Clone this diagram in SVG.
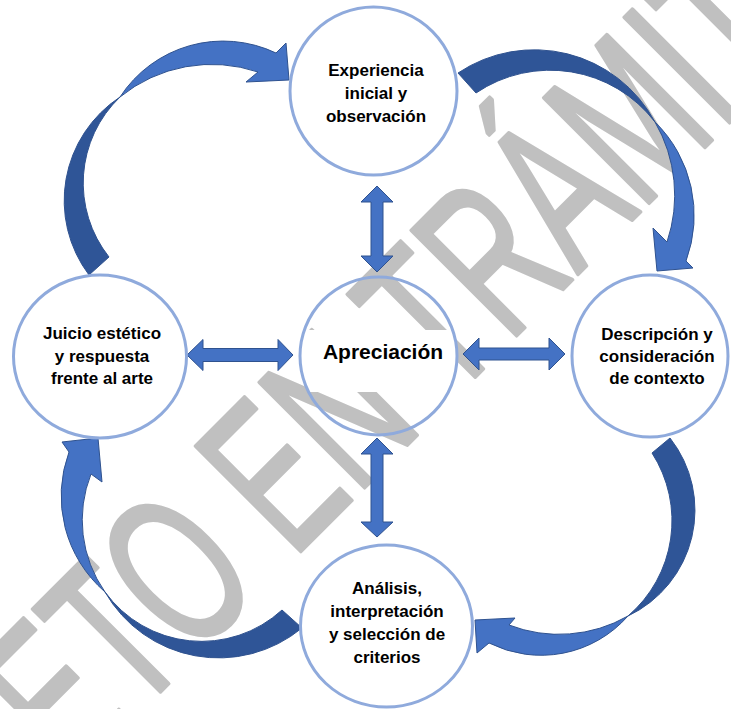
<svg xmlns="http://www.w3.org/2000/svg" width="731" height="709" viewBox="0 0 731 709">
<defs>
<style>
.ring {fill:none; stroke:#8FAADC; stroke-width:3;}
.lbl {font-family:"Liberation Sans", Arial, sans-serif; font-weight:bold; font-size:17px; fill:#000; text-anchor:middle;}
.big {font-size:21px;}
.dbl {fill:#4472C4; stroke:#2F528F; stroke-width:1;}
.dark {fill:#2F5597; stroke:#2F528F; stroke-width:1;}
.light {fill:#4472C4; stroke:#2F528F; stroke-width:1;}
.wm {font-family:"Liberation Sans", Arial, sans-serif; font-size:135px; fill:#C0C0C0; stroke:#C0C0C0; stroke-width:2.5; stroke-linejoin:round;}
</style>
<clipPath id="cApp"><ellipse cx="378.5" cy="356" rx="78.5" ry="79"/></clipPath>
</defs>
<rect width="731" height="709" fill="#fff"/>
<g id="watermark"><text class="wm" transform="translate(-199,1051) rotate(-45) scale(1,1.6)">DECRETO EN TRÁMITE</text></g>
<g id="connectors">
<path class="dark" d="M89,275 A124,124 0 0 1 120,97 A119,119 0 0 0 109,257 Z"/>
<path class="light" d="M120,97 A123,123 0 0 1 276,53 L286,43 L289,80 L246,82 L258,72 A145,145 0 0 0 120,97 Z"/>
<path class="dark" d="M458,73 A137,137 0 0 1 655,122 A132,132 0 0 0 476,93 Z"/>
<path class="light" d="M655,122 A131,131 0 0 1 686,261 L693,268 L657,271 L653,228 L667,242 A146,146 0 0 0 655,122 Z"/>
<path class="dark" d="M670,438 A117,117 0 0 1 628,616 A125,125 0 0 0 652,453 Z"/>
<path class="light" d="M628,616 A116,116 0 0 1 489,643 L477,653 L475,620 L515,618 L509,625 A139,139 0 0 0 628,616 Z"/>
<path class="dark" d="M282,610 A119,119 0 0 1 105,592 A131,131 0 0 0 302,628 Z"/>
<path class="light" d="M105,592 A127,127 0 0 1 69,452 L62,442 L98,438 L102,482 L91,474 A125,125 0 0 0 105,592 Z"/>
<path class="dbl" d="M187,355 L203,339.5 L203,348.5 L278,348.5 L278,339.5 L293,355 L278,370.5 L278,361.5 L203,361.5 L203,370.5 Z"/>
<path class="dbl" d="M463,354 L479,338 L479,348 L549,348 L549,338 L565,354 L549,370 L549,360 L479,360 L479,370 Z"/>
<path class="dbl" d="M377,186 L393,202 L383,202 L383,256 L393,256 L377,272 L361,256 L371,256 L371,202 L361,202 Z"/>
<path class="dbl" d="M377,438 L393,454 L383,454 L383,522 L393,522 L377,537 L361,522 L371,522 L371,454 L361,454 Z"/>
</g>
<g id="experiencia">
<ellipse class="ring" cx="373.5" cy="91" rx="83.5" ry="84"/>
<text class="lbl" x="376" y="76">Experiencia</text>
<text class="lbl" x="376" y="99">inicial y</text>
<text class="lbl" x="376" y="122">observación</text>
</g>
<g id="apreciacion">
<rect x="300" y="330" width="160" height="62" fill="#fff" clip-path="url(#cApp)"/>
<ellipse class="ring" cx="378.5" cy="356" rx="78.5" ry="79"/>
<text class="lbl big" x="383" y="359">Apreciación</text>
</g>
<g id="juicio">
<ellipse class="ring" cx="100" cy="356.5" rx="86.5" ry="81.5"/>
<text class="lbl" x="102" y="339">Juicio estético</text>
<text class="lbl" x="102" y="361.5">y respuesta</text>
<text class="lbl" x="102" y="384">frente al arte</text>
</g>
<g id="descripcion">
<ellipse class="ring" cx="650" cy="356" rx="78" ry="81"/>
<text class="lbl" x="657" y="340">Descripción y</text>
<text class="lbl" x="657" y="362">consideración</text>
<text class="lbl" x="657" y="384">de contexto</text>
</g>
<g id="analisis">
<ellipse class="ring" cx="386.5" cy="626" rx="86" ry="81"/>
<text class="lbl" x="387" y="594">Análisis,</text>
<text class="lbl" x="387" y="617">interpretación</text>
<text class="lbl" x="387" y="640">y selección de</text>
<text class="lbl" x="387" y="663">criterios</text>
</g>
</svg>
